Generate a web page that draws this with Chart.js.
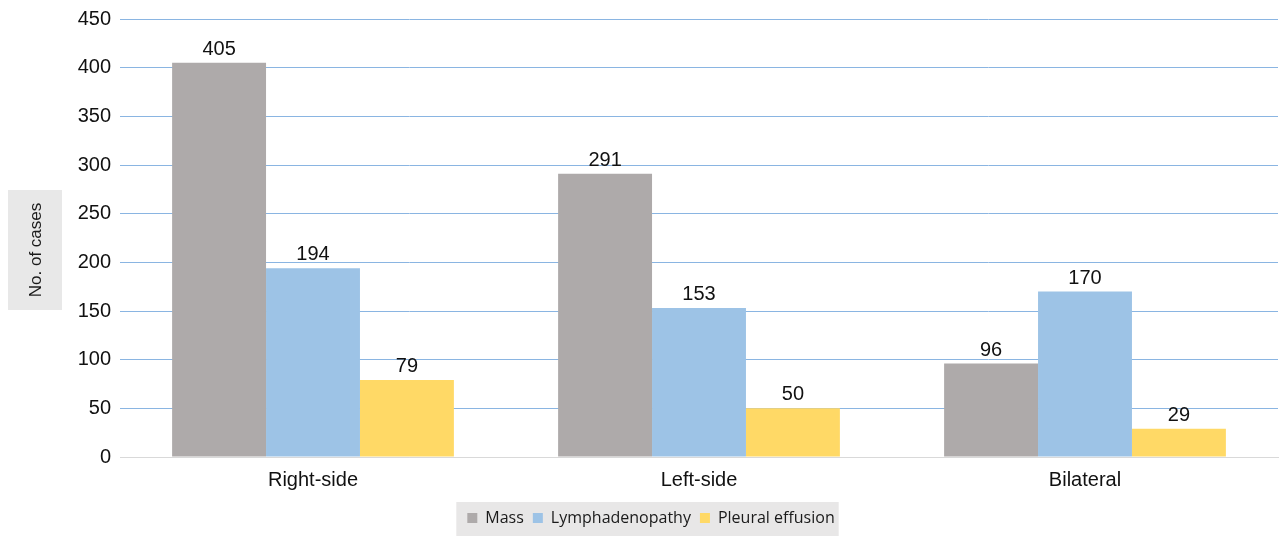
<!DOCTYPE html>
<html>
<head>
<meta charset="utf-8">
<script src="https://cdn.jsdelivr.net/npm/chart.js@4.4.0/dist/chart.umd.min.js"></script>
<style>
  html, body { margin: 0; padding: 0; background: #ffffff; }
  #wrap { width: 1280px; height: 536px; }
</style>
</head>
<body>
<div id="wrap"><canvas id="chart" width="1280" height="536"></canvas></div>
<script>
const categories = ['Right-side', 'Left-side', 'Bilateral'];
const massValues = [405, 291, 96];
const lymphValues = [194, 153, 170];
const effusionValues = [79, 50, 29];
const yTicks = [0, 50, 100, 150, 200, 250, 300, 350, 400, 450];
const yTitle = 'No. of cases';

const TICK_FONT = { family: '"Liberation Sans", Arial, sans-serif', size: 20 };
const LEGEND_SHIFT = 12;

// Nudge the legend row to the right and paint a grey panel behind its items
const legendPanel = {
  id: 'legendPanel',
  afterLayout(chart) {
    const lg = chart.legend;
    if (!lg) return;
    lg.left += LEGEND_SHIFT;
    lg.right += LEGEND_SHIFT;
  },
  beforeDraw(chart) {
    const lg = chart.legend;
    if (!lg || !lg.legendHitBoxes || !lg.legendHitBoxes.length) return;
    const boxes = lg.legendHitBoxes;
    const left = Math.min(...boxes.map(b => b.left)) - 11;
    const right = Math.max(...boxes.map(b => b.left + b.width)) + 4;
    const ctx = chart.ctx;
    ctx.save();
    ctx.fillStyle = '#e8e7e7';
    ctx.fillRect(left, 502, right - left, chart.height - 502);
    ctx.restore();
  }
};

// Rotated axis title on a grey panel, left of the value axis
const axisTitlePanel = {
  id: 'axisTitlePanel',
  beforeDraw(chart) {
    const ctx = chart.ctx;
    const area = chart.chartArea;
    const cy = (area.top + area.bottom) / 2 + 12;
    ctx.save();
    ctx.fillStyle = '#e8e8e8';
    ctx.fillRect(8, cy - 60, 54, 120);
    ctx.translate(36, cy);
    ctx.rotate(-Math.PI / 2);
    ctx.fillStyle = '#1a1a1a';
    ctx.font = '17px "Liberation Sans", Arial, sans-serif';
    ctx.textAlign = 'center';
    ctx.textBaseline = 'middle';
    ctx.fillText(yTitle, 0, 0);
    ctx.restore();
  }
};

// Value labels above every bar
const valueLabels = {
  id: 'valueLabels',
  afterDatasetsDraw(chart) {
    const ctx = chart.ctx;
    ctx.save();
    ctx.fillStyle = '#111111';
    ctx.font = '20px "Liberation Sans", Arial, sans-serif';
    ctx.textAlign = 'center';
    ctx.textBaseline = 'alphabetic';
    chart.data.datasets.forEach((ds, i) => {
      chart.getDatasetMeta(i).data.forEach((bar, j) => {
        ctx.fillText(String(ds.data[j]), bar.x, bar.y - 8);
      });
    });
    ctx.restore();
  }
};

new Chart(document.getElementById('chart'), {
  type: 'bar',
  data: {
    labels: categories,
    datasets: [
      { label: 'Mass', data: massValues, backgroundColor: '#aeaaaa' },
      { label: 'Lymphadenopathy', data: lymphValues, backgroundColor: '#9dc3e6' },
      { label: 'Pleural effusion', data: effusionValues, backgroundColor: '#ffd966' }
    ]
  },
  options: {
    responsive: false,
    animation: false,
    layout: { padding: { top: 3, right: 2, left: 0, bottom: 0 } },
    datasets: { bar: { categoryPercentage: 0.73, barPercentage: 1.0 } },
    scales: {
      x: {
        grid: { display: false },
        border: { display: true, color: '#d9d9d9' },
        ticks: { color: '#111111', font: TICK_FONT, padding: 3 },
        afterFit(scale) { scale.height = 44; }
      },
      y: {
        min: 0,
        max: 450,
        afterBuildTicks(scale) { scale.ticks = yTicks.map(v => ({ value: v })); },
        grid: {
          drawTicks: false,
          color: ctx => (ctx.tick && ctx.tick.value === 0) ? '#d9d9d9' : '#8ab5e2',
          lineWidth: 1
        },
        border: { display: false },
        ticks: { color: '#111111', font: Object.assign({ lineHeight: 1.0 }, TICK_FONT), padding: 9 },
        afterFit(scale) { scale.width = 120; }
      }
    },
    plugins: {
      legend: {
        position: 'bottom',
        labels: {
          boxWidth: 10,
          boxHeight: 10,
          padding: 9,
          color: '#1a1a1a',
          font: { family: '"Open Sans", sans-serif', size: 16 }
        }
      },
      tooltip: { enabled: false }
    }
  },
  plugins: [legendPanel, axisTitlePanel, valueLabels]
});
</script>
</body>
</html>
